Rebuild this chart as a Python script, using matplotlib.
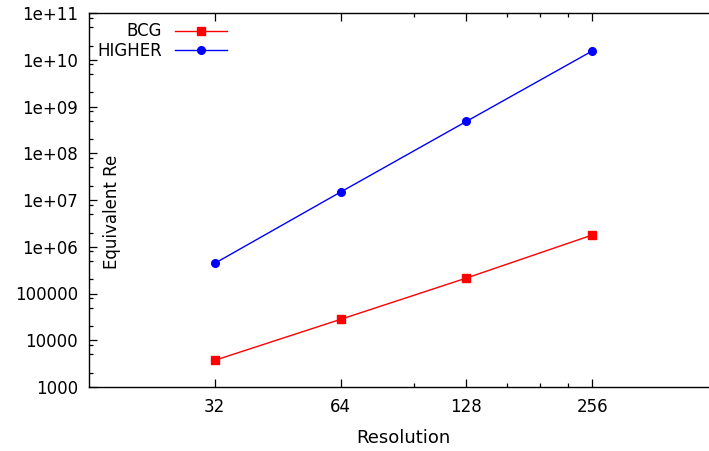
import matplotlib
matplotlib.use("Agg")
import matplotlib.pyplot as plt

# data
resolution = [32, 64, 128, 256]
bcg = [3725, 28000, 214000, 1.78e6]
higher = [4.43e5, 1.48e7, 4.8e8, 1.54e10]

x_ticks = [32, 64, 128, 256]
x_minor = [96, 160, 192, 224]
y_ticks = [1e3, 1e4, 1e5, 1e6, 1e7, 1e8, 1e9, 1e10, 1e11]
y_labels = ["1000", "10000", "100000", "1e+06", "1e+07", "1e+08",
            "1e+09", "1e+10", "1e+11"]
y_minor = [m * 10.0 ** k for k in range(3, 11) for m in (2, 5, 8)]

plt.rcParams["font.family"] = "DejaVu Sans"
plt.rcParams["font.size"] = 12

fig = plt.figure(figsize=(7.09, 4.51), dpi=100)
ax = fig.add_axes([89 / 709, 64 / 451, 629 / 709, 374 / 451])

ax.plot(resolution, bcg, color="#ff0000", lw=1, marker="s", ms=5.5,
        label="BCG")
ax.plot(resolution, higher, color="#0000ff", lw=1, marker="o", ms=5.5,
        label="HIGHER")

ax.set_xscale("log")
ax.set_yscale("log")
ax.set_xlim(16, 512)
ax.set_ylim(1e3, 1e11)

ax.set_xticks(x_ticks)
ax.set_xticklabels([str(v) for v in x_ticks])
ax.set_xticks(x_minor, minor=True)
ax.set_xticklabels([], minor=True)
ax.set_yticks(y_ticks)
ax.set_yticklabels(y_labels)
ax.set_yticks(y_minor, minor=True)
ax.set_yticklabels([], minor=True)

ax.tick_params(which="both", direction="in", top=True, right=False,
               width=0.9, colors="black")
ax.tick_params(which="major", length=6, pad=8)
ax.tick_params(which="minor", length=3)
ax.spines["right"].set_visible(False)
for s in ("left", "bottom", "top"):
    ax.spines[s].set_linewidth(1)

ax.set_xlabel("Resolution", fontsize=13, labelpad=9)
ax.text(0.0366, 0.468, "Equivalent Re", rotation=90, fontsize=12,
        transform=ax.transAxes, ha="center", va="center")

leg = ax.legend(loc="upper right", bbox_to_anchor=(0.2194, 0.975),
                frameon=False, markerfirst=False, handlelength=3.1,
                handletextpad=0.8, labelspacing=0.08, borderpad=0,
                borderaxespad=0)
for col in leg._legend_handle_box.get_children():
    col.align = "right"

fig.savefig("out.png", dpi=100)
